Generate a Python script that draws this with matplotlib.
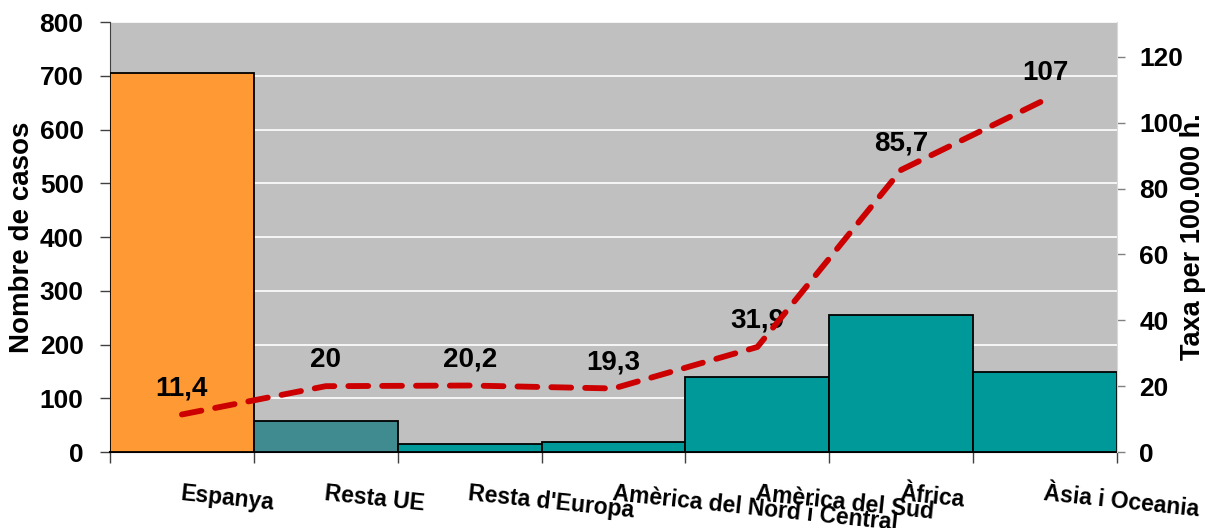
import matplotlib.pyplot as plt

# Casos per regió d'origen i taxa per 100.000 h.
regions = ["Espanya", "Resta UE", "Resta d'Europa", "Amèrica del Nord i Central",
           "Amèrica del Sud", "Àfrica", "Àsia i Oceania"]
casos = [706, 57, 14, 19, 140, 254, 149]
taxa = [11.4, 20, 20.2, 19.3, 31.9, 85.7, 107]
etiquetes_taxa = ["11,4", "20", "20,2", "19,3", "31,9", "85,7", "107"]
colors_barres = ["#FF9933", "#3F8B90", "#009999", "#009999", "#009999", "#009999", "#009999"]

plt.rcParams['font.family'] = ['Liberation Sans', 'DejaVu Sans']
plt.rcParams['font.weight'] = 'bold'

fig = plt.figure(figsize=(12.06, 5.28), dpi=100)
ax = fig.add_axes([0.0912, 0.1439, 0.835, 0.8144])
ax.set_facecolor('#C0C0C0')

x = list(range(len(regions)))
# Barres amb amplada completa, una al costat de l'altra
ax.bar(x, casos, width=1.0, color=colors_barres, edgecolor='black', linewidth=1.3, zorder=3)

ax.set_xlim(-0.5, len(regions) - 0.5)
ax.set_ylim(0, 800)
ax.set_yticks(range(0, 801, 100))
ax.yaxis.grid(True, color='white', linewidth=1.2, zorder=0)
ax.set_axisbelow(True)
ax.set_ylabel('Nombre de casos', fontsize=20, fontweight='bold')
ax.yaxis.set_label_coords(-0.0745, 0.5)
ax.tick_params(axis='y', labelsize=19, length=7, color='#404040', width=1, pad=12)

# Marques de l'eix X entre categories
ax.set_xticks([i - 0.5 for i in range(len(regions) + 1)])
ax.set_xticklabels([])
ax.tick_params(axis='x', length=8, color='#404040', width=1)
for i, nom in enumerate(regions):
    ax.text(i, -0.07, nom, transform=ax.get_xaxis_transform(), ha='left', va='top',
            rotation=-6, rotation_mode='anchor', fontsize=16.5, fontweight='bold')

for s in ['top', 'right']:
    ax.spines[s].set_visible(False)
ax.spines['left'].set_color('#404040')
ax.spines['bottom'].set_color('black')
ax.spines['bottom'].set_linewidth(1.5)

# Eix secundari per a la taxa
ax2 = ax.twinx()
ax2.set_ylim(0, 130.6)
ax2.set_yticks(range(0, 121, 20))
ax2.tick_params(axis='y', labelsize=19, length=6, color='#808080', width=1, pad=10)
for s in ['top', 'left', 'bottom']:
    ax2.spines[s].set_visible(False)
ax2.spines['right'].set_color('#D8D8D8')
ax2.set_ylabel('Taxa per 100.000 h.', fontsize=19.5, fontweight='bold')
ax2.yaxis.set_label_coords(1.0626, 0.5)

ax2.plot(x, taxa, color='#CC0000', linewidth=4.2, linestyle=(0, (3.4, 2.4)),
         dash_capstyle='round', zorder=4)
for xi, yi, lab in zip(x, taxa, etiquetes_taxa):
    ax2.annotate(lab, (xi, yi), xytext=(0, 19), textcoords='offset points',
                 ha='center', va='center', fontsize=20, fontweight='bold')

fig.savefig('out.png', dpi=100)
